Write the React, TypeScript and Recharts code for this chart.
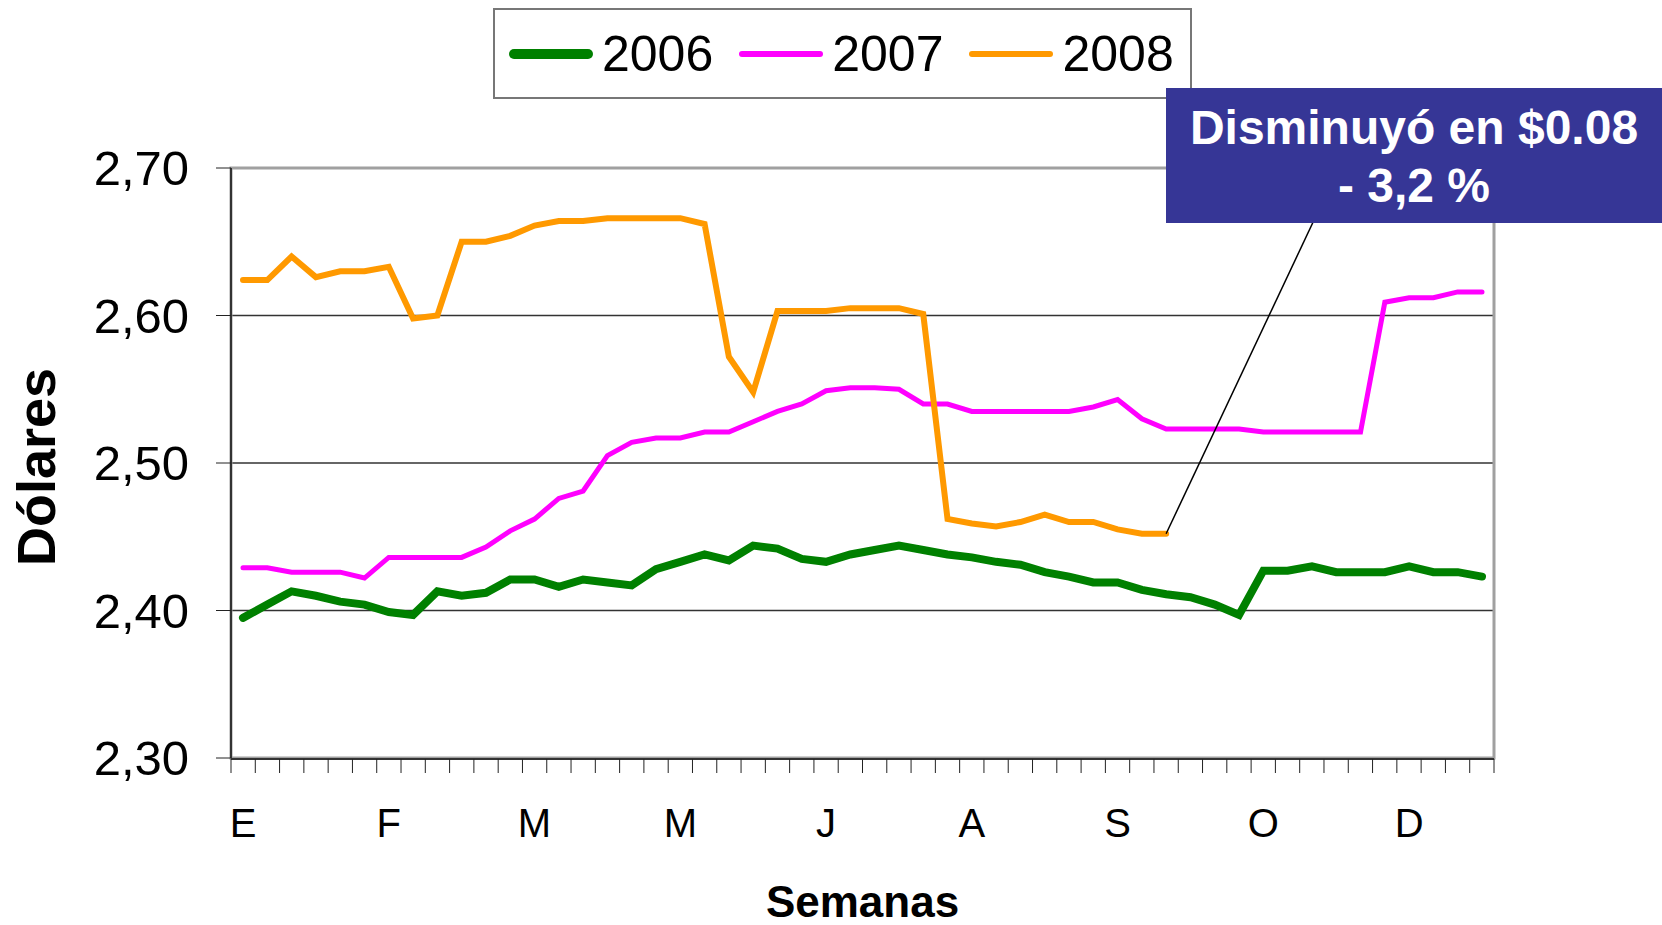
import {
  CartesianGrid,
  Label,
  Line,
  LineChart,
  ReferenceArea,
  ReferenceLine,
  XAxis,
  YAxis,
} from "recharts";

const FONT = "'Liberation Sans', Arial, sans-serif";

// 52 semanas del año
const weeks = Array.from({ length: 52 }, (_, i) => i + 1);
// límites entre semanas (marcas del eje X)
const weekBounds = [0.5, ...weeks.map((w) => w + 0.5)];
const monthTicks = [1, 7, 13, 19, 25, 31, 37, 43, 49];
const monthLabels = ["E", "F", "M", "M", "J", "A", "S", "O", "D"];
const yTicks = [2.3, 2.4, 2.5, 2.6, 2.7];

const prices2006 = [
  2.395, 2.404, 2.413, 2.41, 2.406, 2.404, 2.399, 2.397, 2.413, 2.41,
  2.412, 2.421, 2.421, 2.416, 2.421, 2.419, 2.417, 2.428, 2.433, 2.438,
  2.434, 2.444, 2.442, 2.435, 2.433, 2.438, 2.441, 2.444, 2.441, 2.438,
  2.436, 2.433, 2.431, 2.426, 2.423, 2.419, 2.419, 2.414, 2.411, 2.409,
  2.404, 2.397, 2.427, 2.427, 2.43, 2.426, 2.426, 2.426, 2.43, 2.426,
  2.426, 2.423,
];

const prices2007 = [
  2.429, 2.429, 2.426, 2.426, 2.426, 2.422, 2.436, 2.436, 2.436, 2.436,
  2.443, 2.454, 2.462, 2.476, 2.481, 2.505, 2.514, 2.517, 2.517, 2.521,
  2.521, 2.528, 2.535, 2.54, 2.549, 2.551, 2.551, 2.55, 2.54, 2.54,
  2.535, 2.535, 2.535, 2.535, 2.535, 2.538, 2.543, 2.53, 2.523, 2.523,
  2.523, 2.523, 2.521, 2.521, 2.521, 2.521, 2.521, 2.609, 2.612, 2.612,
  2.616, 2.616,
];

const prices2008 = [
  2.624, 2.624, 2.64, 2.626, 2.63, 2.63, 2.633, 2.598, 2.6, 2.65,
  2.65, 2.654, 2.661, 2.664, 2.664, 2.666, 2.666, 2.666, 2.666, 2.662,
  2.572, 2.548, 2.603, 2.603, 2.603, 2.605, 2.605, 2.605, 2.601, 2.462,
  2.459, 2.457, 2.46, 2.465, 2.46, 2.46, 2.455, 2.452, 2.452,
];

const series = [
  { key: "y2006", name: "2006", color: "#008000", width: 8, legendWidth: 10 },
  { key: "y2007", name: "2007", color: "#ff00ff", width: 5, legendWidth: 6 },
  { key: "y2008", name: "2008", color: "#ff9900", width: 6, legendWidth: 6 },
];

const data = weeks.map((w, i) => ({
  week: w,
  y2006: prices2006[i],
  y2007: prices2007[i],
  y2008: i < prices2008.length ? prices2008[i] : null,
}));

function ChartLegend() {
  return (
    <div
      style={{
        position: "absolute",
        left: 493,
        top: 8,
        width: 699,
        height: 91,
        boxSizing: "border-box",
        border: "2px solid #777",
        background: "#fff",
        display: "flex",
        alignItems: "center",
        paddingLeft: 14,
        fontFamily: FONT,
        fontSize: 50,
        color: "#000",
      }}
    >
      {series.map((s, i) => (
        <div
          key={s.key}
          style={{ display: "flex", alignItems: "center", marginLeft: i === 0 ? 0 : 26 }}
        >
          <svg width={84} height={20}>
            <line
              x1={s.legendWidth / 2}
              y1={10}
              x2={84 - s.legendWidth / 2}
              y2={10}
              stroke={s.color}
              strokeWidth={s.legendWidth}
              strokeLinecap="round"
            />
          </svg>
          <span style={{ marginLeft: 9, lineHeight: "50px" }}>{s.name}</span>
        </div>
      ))}
    </div>
  );
}

function Callout() {
  return (
    <div
      style={{
        position: "absolute",
        left: 1166,
        top: 88,
        width: 496,
        height: 135,
        boxSizing: "border-box",
        paddingTop: 11,
        background: "#363696",
        color: "#fff",
        fontFamily: FONT,
        fontWeight: "bold",
        fontSize: 48,
        lineHeight: "58px",
        textAlign: "center",
      }}
    >
      Disminuyó en $0.08
      <br />- 3,2 %
    </div>
  );
}

export default function App() {
  return (
    <div
      style={{
        position: "absolute",
        left: 0,
        top: 0,
        width: 1662,
        height: 925,
        background: "#fff",
        fontFamily: FONT,
      }}
    >
      <LineChart
        width={1662}
        height={925}
        data={data}
        margin={{ top: 168, right: 168, bottom: 165, left: 0 }}
      >
        <CartesianGrid vertical={false} stroke="#333" strokeWidth={1.3} />
        <XAxis
          xAxisId="cat"
          dataKey="week"
          type="category"
          height={1}
          padding={{ left: 12, right: 12 }}
          ticks={monthTicks}
          interval={0}
          tickFormatter={(v: number) => monthLabels[monthTicks.indexOf(v)] ?? ""}
          tickLine={false}
          axisLine={false}
          tickSize={0}
          tickMargin={51}
          tick={{ fill: "#000", fontSize: 40, fontFamily: FONT }}
        >
          <Label
            content={({ viewBox }: any) => (
              <text
                x={viewBox.x + viewBox.width / 2}
                y={917}
                textAnchor="middle"
                fontFamily={FONT}
                fontWeight="bold"
                fontSize={44}
                fill="#000"
              >
                Semanas
              </text>
            )}
          />
        </XAxis>
        <XAxis
          xAxisId="marks"
          dataKey="week"
          type="number"
          domain={[0.5, 52.5]}
          ticks={weekBounds}
          interval={0}
          height={1}
          tickFormatter={() => ""}
          tick={{ fontSize: 1 }}
          tickSize={14}
          tickLine={{ stroke: "#222", strokeWidth: 1 }}
          axisLine={{ stroke: "#333", strokeWidth: 2 }}
          allowDataOverflow
        />
        <YAxis
          width={231}
          domain={[2.3, 2.7]}
          ticks={yTicks}
          interval={0}
          tickFormatter={(v: number) => v.toFixed(2).replace(".", ",")}
          tickSize={15}
          tickMargin={27}
          tickLine={{ stroke: "#222", strokeWidth: 1 }}
          axisLine={{ stroke: "#333", strokeWidth: 2 }}
          tick={{ fill: "#000", fontSize: 49, fontFamily: FONT }}
          allowDataOverflow
        >
          <Label
            content={({ viewBox }: any) => {
              const cx = 55;
              const cy = viewBox.y + viewBox.height / 2 + 4;
              return (
                <text
                  x={cx}
                  y={cy}
                  transform={`rotate(-90, ${cx}, ${cy})`}
                  textAnchor="middle"
                  fontFamily={FONT}
                  fontWeight="bold"
                  fontSize={54}
                  fill="#000"
                >
                  Dólares
                </text>
              );
            }}
          />
        </YAxis>
        <ReferenceArea
          xAxisId="marks"
          x1={0.5}
          x2={52.5}
          y1={2.3}
          y2={2.7}
          fill="none"
          stroke="#a0a0a0"
          strokeWidth={3}
          ifOverflow="visible"
        />
        {series.map((s) => (
          <Line
            key={s.key}
            xAxisId="cat"
            type="linear"
            dataKey={s.key}
            name={s.name}
            stroke={s.color}
            strokeWidth={s.width}
            strokeLinecap="round"
            dot={false}
            activeDot={false}
            isAnimationActive={false}
          />
        ))}
        <ReferenceLine
          xAxisId="marks"
          segment={[
            { x: 39, y: 2.452 },
            { x: 45.3, y: 2.672 },
          ]}
          stroke="#000"
          strokeWidth={1.5}
          ifOverflow="visible"
        />
      </LineChart>
      <ChartLegend />
      <Callout />
    </div>
  );
}
